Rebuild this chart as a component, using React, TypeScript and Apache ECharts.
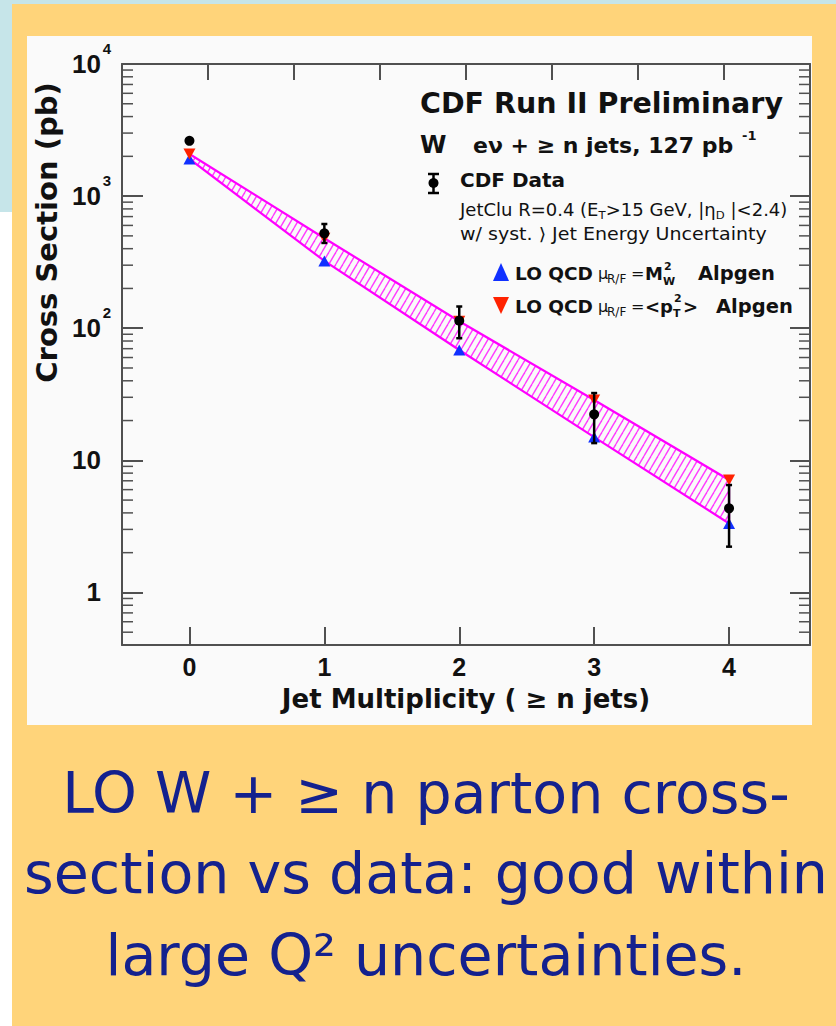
import React, { useEffect, useRef } from 'react';
import * as echarts from 'echarts';

// ---- data ----
const jetN = [0, 1, 2, 3, 4];
const cdfData = [2620, 523, 114, 22.3, 4.33];
const cdfLow = [2540, 442, 84, 13.5, 2.22];
const cdfHigh = [2700, 615, 146, 32.3, 6.5];
const loMw2 = [1910, 323, 68.4, 15.0, 3.33]; // LO QCD mu = M_W^2 (blue)
const loPt2 = [2084, 480, 113, 28.6, 7.1]; // LO QCD mu = <pT^2> (red)

const X_MIN = -0.5;
const X_MAX = 4.6;
const Y_MIN = 0.4;
const Y_MAX = 10000;
const decadeBases = [0.1, 1, 10, 100, 1000];
const minorMultipliers = [2, 3, 4, 5, 6, 7, 8, 9];

const FT = 'DejaVu Sans';
const FL = 'Liberation Sans';
const AXIS_COLOR = '#505050';

const minorTicks: number[] = [];
decadeBases.forEach((b) =>
  minorMultipliers.forEach((m) => {
    const v = m * b;
    if (v > Y_MIN && v < Y_MAX) minorTicks.push(v);
  })
);

function makeHatch() {
  const c = document.createElement('canvas');
  c.width = 7;
  c.height = 12;
  const ctx = c.getContext('2d')!;
  ctx.strokeStyle = '#ff3cff';
  ctx.lineWidth = 1.4;
  for (let k = -1; k <= 1; k++) {
    ctx.beginPath();
    ctx.moveTo(k * 7, 12);
    ctx.lineTo(k * 7 + 7, 0);
    ctx.stroke();
  }
  return c;
}

function yLabel(v: number) {
  const e = Math.round(Math.log10(v));
  if (Math.abs(v - Math.pow(10, e)) > 1e-6 * v) return '';
  if (e === 0) return '{b|1}{s| }';
  if (e === 1) return '{b|10}{s| }';
  return `{b|10}{s|${e}}`;
}

function txt(x: number, y: number, text: string, size: number, bold = true, extra: any = {}) {
  return {
    type: 'text',
    x,
    y,
    z: 100,
    silent: true,
    ...extra,
    style: {
      text,
      fontFamily: FT,
      fontWeight: bold ? 'bold' : 'normal',
      fontSize: size,
      fill: '#111',
      align: 'left',
      verticalAlign: 'middle',
      ...(extra.style || {}),
    },
  };
}

export default function App() {
  const ref = useRef<HTMLDivElement>(null);
  useEffect(() => {
    const chart = echarts.init(ref.current!, null, { renderer: 'svg' });
    const hatch = makeHatch();

    const bg = [
      { type: 'rect', z: -20, silent: true, shape: { x: 0, y: 0, width: 836, height: 1026 }, style: { fill: '#ffffff' } },
      { type: 'rect', z: -19, silent: true, shape: { x: 0, y: 0, width: 836, height: 4 }, style: { fill: '#c6e5e9' } },
      { type: 'rect', z: -19, silent: true, shape: { x: 0, y: 0, width: 12, height: 212 }, style: { fill: '#c6e5e9' } },
      { type: 'rect', z: -18, silent: true, shape: { x: 12, y: 4, width: 824, height: 1022 }, style: { fill: '#ffd47a' } },
      { type: 'rect', z: -17, silent: true, shape: { x: 27, y: 36, width: 785, height: 689 }, style: { fill: '#fafafa' } },
    ];

    const legendMarks = [
      // CDF data icon
      { type: 'line', z: 100, shape: { x1: 433.5, y1: 174, x2: 433.5, y2: 193 }, style: { stroke: '#000', lineWidth: 2.5 } },
      { type: 'line', z: 100, shape: { x1: 428, y1: 174, x2: 439, y2: 174 }, style: { stroke: '#000', lineWidth: 2.5 } },
      { type: 'line', z: 100, shape: { x1: 428, y1: 193, x2: 439, y2: 193 }, style: { stroke: '#000', lineWidth: 2.5 } },
      { type: 'circle', z: 100, shape: { cx: 433.5, cy: 183, r: 5 }, style: { fill: '#000' } },
      // blue up triangle
      { type: 'polygon', z: 100, shape: { points: [[493, 281], [509, 281], [501, 263]] }, style: { fill: '#1030ff' } },
      // red down triangle
      { type: 'polygon', z: 100, shape: { points: [[493, 297], [509, 297], [501, 314]] }, style: { fill: '#ff2200' } },
    ];

    const texts = [
      txt(420, 103, 'CDF Run II Preliminary', 28.5),
      txt(420, 145, 'W', 24),
      txt(473, 145, 'e\u03BD + \u2265 n jets, 127 pb', 22),
      txt(742, 135, '-1', 13),
      txt(460, 180, 'CDF Data', 20),
      {
        type: 'text',
        x: 460,
        y: 210,
        z: 100,
        scaleX: 1.06,
        silent: true,
        style: {
          text: '{n|JetClu R=0.4 (E}{s|T}{n|>15 GeV, |\u03B7}{s|D}{n| |<2.4)}',
          align: 'left',
          verticalAlign: 'middle',
          fill: '#111',
          rich: {
            n: { fontFamily: FT, fontSize: 17, lineHeight: 22, fill: '#111' },
            s: { fontFamily: FT, fontSize: 11, lineHeight: 12, verticalAlign: 'bottom', fill: '#111' },
          },
        },
      },
      txt(460, 234, 'w/ syst. \u27E9 Jet Energy Uncertainty', 17, false, { scaleX: 1.12 }),
      // row: blue
      txt(515, 273, 'LO QCD', 18.5),
      txt(598, 273, '\u03BC', 16, false),
      txt(607, 279, 'R/F', 12, false),
      txt(631, 273, '=', 16, false),
      txt(645, 273, 'M', 18),
      txt(664, 266, '2', 11),
      txt(663, 281, 'W', 11),
      txt(698, 273, 'Alpgen', 19.5),
      // row: red
      txt(515, 306, 'LO QCD', 18.5),
      txt(598, 306, '\u03BC', 16, false),
      txt(607, 312, 'R/F', 12, false),
      txt(631, 306, '=', 16, false),
      txt(645, 306, '<p', 18),
      txt(674, 298, '2', 11),
      txt(673, 313, 'T', 11),
      txt(683, 306, '>', 18),
      txt(716, 306, 'Alpgen', 19.5),
    ];

    const bottomStyle = { fontFamily: FT, fontSize: 57, fill: '#14218e', align: 'center', verticalAlign: 'middle' };
    const bottomText = [
      { type: 'text', x: 426, y: 793, z: 100, silent: true, style: { ...bottomStyle, text: 'LO W + \u2265 n parton cross-' } },
      { type: 'text', x: 426, y: 873, z: 100, silent: true, style: { ...bottomStyle, text: 'section vs data: good within' } },
      { type: 'text', x: 426, y: 955, z: 100, silent: true, style: { ...bottomStyle, text: 'large Q\u00B2 uncertainties.' } },
    ];

    const axisLine = { show: true, onZero: false, lineStyle: { color: AXIS_COLOR, width: 2 } };

    const option: any = {
      animation: false,
      backgroundColor: '#ffffff',
      grid: { left: 122, top: 64, right: 26, bottom: 381, containLabel: false },
      xAxis: [
        {
          type: 'value',
          position: 'bottom',
          min: X_MIN,
          max: X_MAX,
          splitNumber: 5,
          minInterval: 1,
          axisLine,
          axisTick: { show: true, inside: true, length: 18, lineStyle: { color: AXIS_COLOR, width: 2 } },
          splitLine: { show: false },
          axisLabel: {
            margin: 9,
            showMinLabel: false,
            showMaxLabel: false,
            fontFamily: FL,
            fontWeight: 'bold',
            fontSize: 25,
            color: '#111',
            formatter: (v: number) => (Number.isInteger(v) ? String(v) : ''),
          },
          name: 'Jet Multiplicity ( \u2265 n jets)',
          nameLocation: 'middle',
          nameGap: 41,
          nameTextStyle: { fontFamily: FT, fontWeight: 'bold', fontSize: 26, color: '#111' },
        },
        {
          type: 'value',
          position: 'top',
          min: 0,
          max: 8,
          interval: 1,
          axisLine,
          axisTick: { show: true, inside: true, length: 16, lineStyle: { color: AXIS_COLOR, width: 2 } },
          axisLabel: { show: false },
          splitLine: { show: false },
        },
      ],
      yAxis: [
        {
          type: 'log',
          logBase: 10,
          min: Y_MIN,
          max: Y_MAX,
          position: 'left',
          axisLine,
          axisTick: { show: true, inside: true, length: 21, lineStyle: { color: AXIS_COLOR, width: 2 } },
          splitLine: { show: false },
          axisLabel: {
            margin: 9,
            showMinLabel: false,
            formatter: yLabel,
            rich: {
              b: { fontFamily: FL, fontWeight: 'bold', fontSize: 26, lineHeight: 47, color: '#111' },
              s: { fontFamily: FL, fontWeight: 'bold', fontSize: 15, lineHeight: 15, verticalAlign: 'top', width: 12, align: 'left', color: '#111' },
            },
          },
          name: 'Cross Section (pb)',
          nameLocation: 'middle',
          nameRotate: 90,
          nameGap: 59,
          nameTextStyle: { fontFamily: FT, fontWeight: 'bold', fontSize: 29, color: '#111', padding: [0, 0, 0, 244] },
        },
        {
          type: 'log',
          logBase: 10,
          min: Y_MIN,
          max: Y_MAX,
          position: 'right',
          axisLine,
          axisTick: { show: true, inside: true, length: 20, lineStyle: { color: AXIS_COLOR, width: 2 } },
          axisLabel: { show: false },
          splitLine: { show: false },
        },
      ],
      series: [
        {
          name: 'minor ticks',
          type: 'custom',
          xAxisIndex: 0,
          yAxisIndex: 0,
          silent: true,
          clip: false,
          z: 1,
          data: minorTicks.map((v) => [X_MIN, v]),
          renderItem: (_p: any, api: any) => {
            const v = api.value(1);
            const pl = api.coord([X_MIN, v]);
            const pr = api.coord([X_MAX, v]);
            const st = { stroke: AXIS_COLOR, lineWidth: 1.5 };
            return {
              type: 'group',
              children: [
                { type: 'line', shape: { x1: pl[0], y1: pl[1], x2: pl[0] + 11, y2: pl[1] }, style: st },
                { type: 'line', shape: { x1: pr[0] - 11, y1: pr[1], x2: pr[0], y2: pr[1] }, style: st },
              ],
            };
          },
        },
        {
          name: 'LO band',
          type: 'custom',
          xAxisIndex: 0,
          yAxisIndex: 0,
          silent: true,
          z: 2,
          data: [[jetN[0], loMw2[0]]],
          renderItem: (_p: any, api: any) => {
            const upper = jetN.map((n, i) => api.coord([n, loPt2[i]]));
            const lower = jetN.map((n, i) => api.coord([n, loMw2[i]])).reverse();
            return {
              type: 'polygon',
              shape: { points: upper.concat(lower) },
              style: {
                fill: { image: hatch, repeat: 'repeat', imageWidth: 7, imageHeight: 12 },
                stroke: '#ff00ff',
                lineWidth: 2.2,
              },
            };
          },
        },
        {
          name: 'LO QCD \u03BC = M_W^2 Alpgen',
          type: 'scatter',
          z: 3,
          symbol: 'triangle',
          symbolSize: [12, 11],
          itemStyle: { color: '#1030ff', opacity: 1 },
          data: jetN.map((n, i) => [n, loMw2[i]]),
        },
        {
          name: 'LO QCD \u03BC = <pT^2> Alpgen',
          type: 'scatter',
          z: 4,
          symbol: 'triangle',
          symbolRotate: 180,
          symbolSize: [12, 11],
          itemStyle: { color: '#ff2200', opacity: 1 },
          data: jetN.map((n, i) => [n, loPt2[i]]),
        },
        {
          name: 'CDF Data errors',
          type: 'custom',
          z: 5,
          silent: true,
          data: jetN.map((n, i) => [n, cdfLow[i], cdfHigh[i]]),
          encode: { x: 0, y: [1, 2] },
          renderItem: (_p: any, api: any) => {
            const x = api.value(0);
            const lo = api.coord([x, api.value(1)]);
            const hi = api.coord([x, api.value(2)]);
            const st = { stroke: '#000', lineWidth: 2.5 };
            return {
              type: 'group',
              children: [
                { type: 'line', shape: { x1: lo[0], y1: lo[1], x2: hi[0], y2: hi[1] }, style: st },
                { type: 'line', shape: { x1: hi[0] - 3, y1: hi[1], x2: hi[0] + 3, y2: hi[1] }, style: st },
                { type: 'line', shape: { x1: lo[0] - 3, y1: lo[1], x2: lo[0] + 3, y2: lo[1] }, style: st },
              ],
            };
          },
        },
        {
          name: 'CDF Data',
          type: 'scatter',
          z: 6,
          symbol: 'circle',
          symbolSize: 10,
          itemStyle: { color: '#000', opacity: 1 },
          data: jetN.map((n, i) => [n, cdfData[i]]),
        },
      ],
      graphic: { elements: [...bg, ...legendMarks, ...texts, ...bottomText] },
    };

    chart.setOption(option);
    return () => chart.dispose();
  }, []);

  return <div ref={ref} style={{ position: 'absolute', left: 0, top: 0, width: 836, height: 1026 }} />;
}
